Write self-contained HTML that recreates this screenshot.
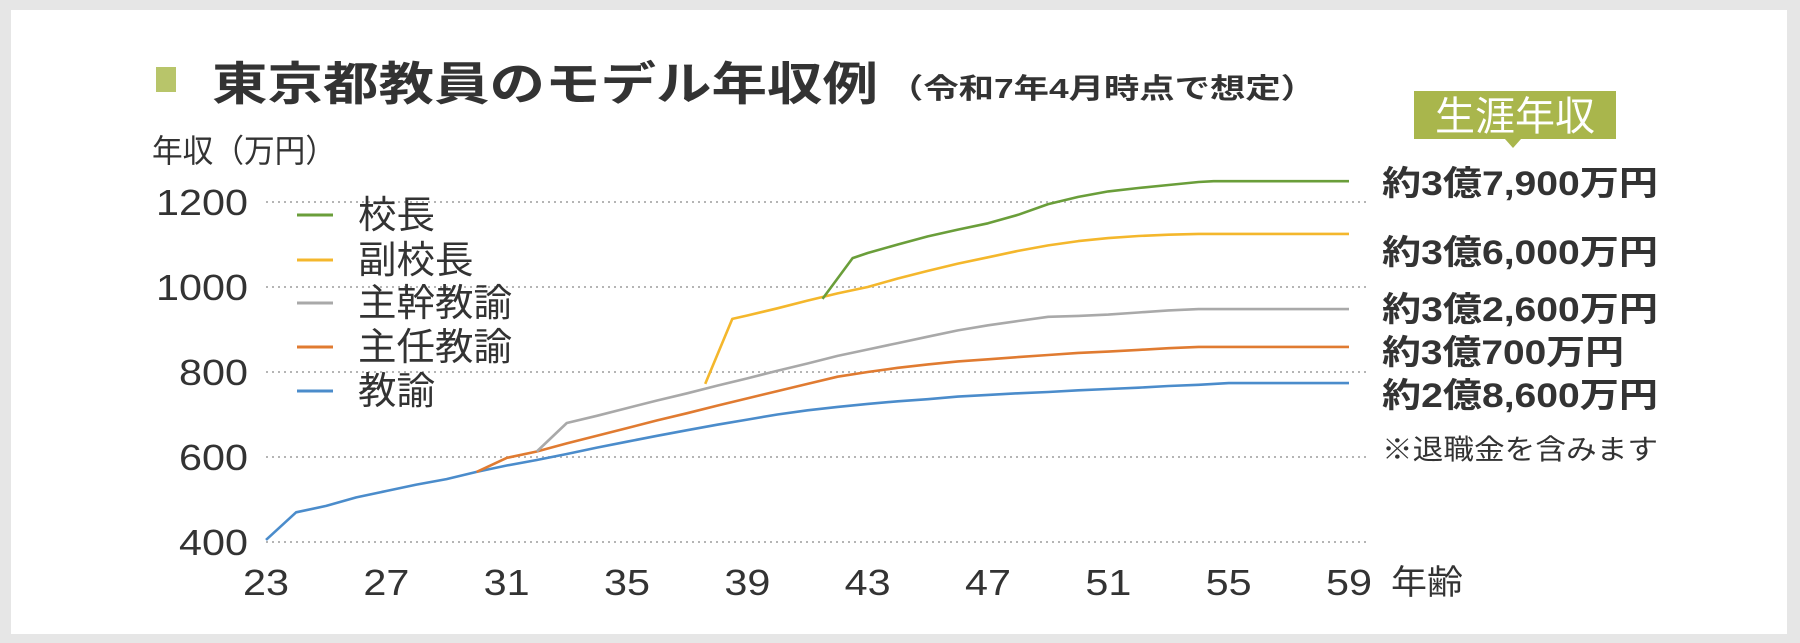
<!DOCTYPE html>
<html><head><meta charset="utf-8"><style>
html,body{margin:0;padding:0;background:#e6e6e6;}
svg{display:block;}
text{font-family:"Liberation Sans","Noto Sans CJK JP",sans-serif;}
</style></head><body>
<svg id="chart" width="1800" height="643" viewBox="0 0 1800 643" xmlns="http://www.w3.org/2000/svg">
<rect x="0" y="0" width="1800" height="643" fill="#e6e6e6"/>
<rect x="11" y="10" width="1776" height="624" fill="#ffffff"/>
<rect x="156" y="67" width="20" height="25" fill="#b8c56a"/>
<text x="212" y="100" font-size="46" font-weight="bold" fill="#333" textLength="666" lengthAdjust="spacingAndGlyphs">東京都教員のモデル年収例</text>
<text x="888" y="98" font-size="28" font-weight="bold" fill="#333" textLength="428" lengthAdjust="spacingAndGlyphs">（令和7年4月時点で想定）</text>
<text x="152" y="162" font-size="32" fill="#333" textLength="184" lengthAdjust="spacingAndGlyphs">年収（万円）</text>
<g id="grid"></g>
<g id="yticks"></g>
<g id="xticks"></g>
<text x="1391" y="594" font-size="34" fill="#333" textLength="72" lengthAdjust="spacingAndGlyphs">年齢</text>
<g id="series"></g>
<g id="legend"></g>
<g id="totals"></g>
<text x="1382" y="459" font-size="28" fill="#333" textLength="276" lengthAdjust="spacingAndGlyphs">※退職金を含みます</text>
<g>
<rect x="1414" y="91" width="202" height="48" fill="#a9b64c"/>
<polygon points="1505,139 1521,139 1513,148" fill="#a9b64c"/>
<text x="1515" y="130" font-size="40" fill="#ffffff" text-anchor="middle" textLength="160" lengthAdjust="spacingAndGlyphs">生涯年収</text>
</g>
</svg>
<script>
const yTicks=[400,600,800,1000,1200];
const xTicks=[23,27,31,35,39,43,47,51,55,59];
const seriesNames=["校長","副校長","主幹教諭","主任教諭","教諭"];
const seriesColors=["#6a9e3a","#f4b72c","#a9a9a9","#e07b31","#4b8ccb"];
const agesTeacher=[23,24,25,26,27,28,29,30,31,32,33,34,35,36,37,38,39,40,41,42,43,44,45,46,47,48,49,50,51,52,53,54,55,59];
const valsTeacher=[405,470,485,505,520,535,548,565,580,593,607,622,636,650,663,676,688,700,710,718,725,731,736,742,746,750,753,757,760,763,767,770,774,774];
const agesChief=[30,31,32,33,34,35,36,37,38,39,40,41,42,43,44,45,46,47,48,49,50,51,52,53,54,59];
const valsChief=[565,598,613,632,650,668,686,703,721,738,755,772,789,800,810,818,825,830,835,840,845,848,852,856,859,859];
const agesSenior=[32,33,34,35,36,37,38,39,40,41,42,43,44,45,46,47,48,49,50,51,52,53,54,59];
const valsSenior=[613,680,697,715,733,750,768,785,803,820,838,853,868,883,898,910,920,930,932,935,940,945,948,948];
const agesVice=[37.6,38.5,39,40,41,42,43,44,45,46,47,48,49,50,51,52,53,54,59];
const valsVice=[772,925,933,950,968,985,1000,1020,1038,1055,1070,1085,1098,1108,1115,1120,1123,1125,1125];
const agesPrincipal=[41.5,42.5,43,44,45,46,47,48,49,50,51,52,53,54,54.5,59];
const valsPrincipal=[972,1068,1080,1100,1119,1135,1150,1170,1195,1212,1225,1233,1240,1247,1249,1249];
const totalLabels=["約3億7,900万円","約3億6,000万円","約3億2,600万円","約3億700万円","約2億8,600万円"];

const NS="http://www.w3.org/2000/svg";
const X0=266,X1=1349,A0=23,A1=59,Y0=542,Y1=202,V0=400,V1=1200;
const xs=a=>X0+(a-A0)*(X1-X0)/(A1-A0);
const ys=v=>Y0-(v-V0)*(Y0-Y1)/(V1-V0);
function mk(tag,attrs,parent){const e=document.createElementNS(NS,tag);for(const k in attrs)e.setAttribute(k,attrs[k]);parent.appendChild(e);return e;}
const grid=document.getElementById('grid'),yt=document.getElementById('yticks'),xt=document.getElementById('xticks');
yTicks.forEach(v=>{
 const l=mk('line',{x1:266,x2:1366,y1:ys(v),y2:ys(v),stroke:'#b5b5b5','stroke-width':2,'stroke-dasharray':'2 4'},grid);
 
 
 const t=mk('text',{x:248,y:ys(v)+13,'font-size':36,fill:'#333','text-anchor':'end',textLength:String(v).length*23,lengthAdjust:'spacingAndGlyphs'},yt);
 t.textContent=v;
 
 
});
xTicks.forEach(a=>{
 const t=mk('text',{x:xs(a),y:595,'font-size':36,fill:'#333','text-anchor':'middle',textLength:46,lengthAdjust:'spacingAndGlyphs'},xt);
 t.textContent=a;
 
 
});
const sAges=[agesPrincipal,agesVice,agesSenior,agesChief,agesTeacher];
const sVals=[valsPrincipal,valsVice,valsSenior,valsChief,valsTeacher];
const sg=document.getElementById('series');
for(let i=4;i>=0;i--){
 const pts=sAges[i].map((a,j)=>xs(a).toFixed(1)+','+ys(sVals[i][j]).toFixed(1)).join(' ');
 const p=mk('polyline',{points:pts,fill:'none',stroke:seriesColors[i],'stroke-width':2.6,'stroke-linejoin':'round'},sg);
 
 
}
const lg=document.getElementById('legend');
const legY=[215,260,303,347,391];
seriesNames.forEach((n,i)=>{
 const l=mk('line',{x1:297,x2:333,y1:legY[i],y2:legY[i],stroke:seriesColors[i],'stroke-width':3},lg);
 
 
 const t=mk('text',{x:358,y:legY[i]+13,'font-size':38,fill:'#333',textLength:n.length*38.5,lengthAdjust:'spacingAndGlyphs'},lg);
 t.textContent=n;
 
 
});
const tg=document.getElementById('totals');
const totY=[182,251,308,351,394];
totalLabels.forEach((s,i)=>{
 const t=mk('text',{x:1382,y:totY[i]+13,'font-size':34,'font-weight':'bold',fill:'#333',textLength:276,lengthAdjust:'spacingAndGlyphs'},tg);
 if(i===3)t.setAttribute('textLength',242);
 t.textContent=s;
 
 
});
</script>
</body></html>
